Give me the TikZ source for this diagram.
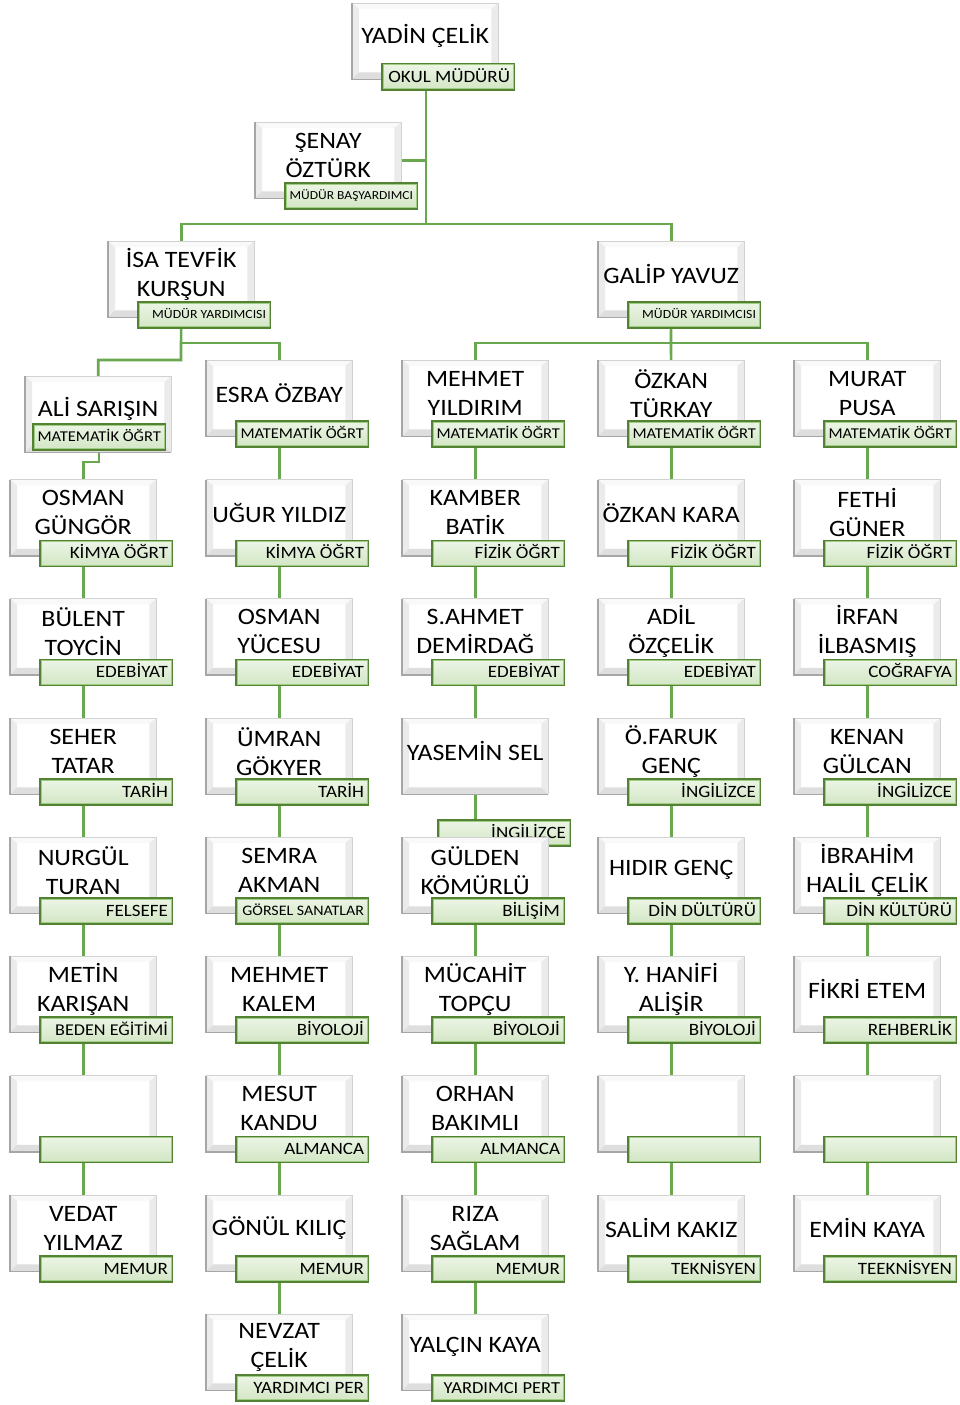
\documentclass[tikz,border=0pt]{standalone}
\usepackage{fontspec}
\setmainfont{Carlito}[FakeStretch=1.1]
\usetikzlibrary{calc}
\pgfdeclarelayer{background}
\pgfsetlayers{background,main}
\definecolor{conn}{RGB}{106,168,79}
\definecolor{lbdark}{RGB}{84,130,53}
\definecolor{lbin}{RGB}{160,205,130}
\definecolor{lbtop}{RGB}{236,245,230}
\definecolor{lbbot}{RGB}{210,230,196}
\tikzset{
  mbox/.style={rectangle, inner sep=0, minimum width=146pt, minimum height=76pt, fill=white},
  mname/.style={inner sep=0, align=center, font=\fontsize{23.5}{29}\selectfont, text=black},
  mlabel/.style={rectangle, inner sep=0, minimum width=132pt, minimum height=25.5pt, draw=lbdark, line width=2.2pt, top color=lbtop, bottom color=lbbot},
  mltext/.style={inner sep=0, anchor=base east},
  link/.style={draw=conn, line width=2.6pt},
}
\newcommand{\mbevel}[1]{%
  \fill[gray!5] (#1.north west) -- (#1.north east) -- ([shift={(-7pt,-6pt)}]#1.north east) -- ([shift={(7pt,-6pt)}]#1.north west) -- cycle;
  \fill[gray!16] (#1.north west) -- ([shift={(7pt,-6pt)}]#1.north west) -- ([shift={(7pt,7pt)}]#1.south west) -- (#1.south west) -- cycle;
  \fill[gray!16] (#1.north east) -- ([shift={(-7pt,-6pt)}]#1.north east) -- ([shift={(-7pt,7pt)}]#1.south east) -- (#1.south east) -- cycle;
  \fill[gray!26] (#1.south west) -- ([shift={(7pt,7pt)}]#1.south west) -- ([shift={(-7pt,7pt)}]#1.south east) -- (#1.south east) -- cycle;
  \draw[gray!35, line width=0.6pt] (#1.south east) -- (#1.north east) -- (#1.north west);
  \draw[gray!70, line width=1.4pt] (#1.north west) -- (#1.south west) -- (#1.south east);
}
\newcommand{\staffgen}[6]{%
  \node[mbox, anchor=north west] (#2) at (#3) {};
  \mbevel{#2}
  \node[mname] (#2-t) at ([yshift=5pt]#2.center) {#4};
  \node[mlabel, anchor=north west] (#2-l) at ([shift={(#6)}]#2.north west) {};
  \draw[lbin, line width=0.8pt] ([shift={(1.9pt,-1.9pt)}]#2-l.north west) rectangle ([shift={(-1.9pt,1.9pt)}]#2-l.south east);
  \node[mltext, font=\fontsize{#1}{#1}\selectfont] (#2-lt) at ([shift={(-5pt,-0.32*#1pt)}]#2-l.east) {#5};
}
\newcommand{\staff}[5][17.3]{\staffgen{#1}{#2}{#3}{#4}{#5}{29pt,-60pt}}
\begin{document}
\begin{tikzpicture}[x=1pt,y=-1pt]
\useasboundingbox (0,0) rectangle (959,1405);
% top
\staff{yadin}{352,3}{YADİN ÇELİK}{OKUL MÜDÜRÜ}
\staff[12.3]{senay}{255,122}{ŞENAY\\ÖZTÜRK}{MÜDÜR BAŞYARDIMCI}
\staff[12.5]{isa}{108,241}{İSA TEVFİK\\KURŞUN}{MÜDÜR YARDIMCISI}
\staff[12.5]{galip}{598,241}{GALİP YAVUZ}{MÜDÜR YARDIMCISI}
% column 1
\staffgen{15}{ali}{25,376}{ALİ SARIŞIN}{MATEMATİK ÖĞRT}{7pt,-47pt}
\staff{osmang}{10,479.5}{OSMAN\\GÜNGÖR}{KİMYA ÖĞRT}
\staff{bulent}{10,598.5}{BÜLENT\\TOYCİN}{EDEBİYAT}
\staff{seher}{10,718}{SEHER\\TATAR}{TARİH}
\staff{nurgul}{10,837}{NURGÜL\\TURAN}{FELSEFE}
\staff[16.5]{metin}{10,956}{METİN\\KARIŞAN}{BEDEN EĞİTİMİ}
\staff{emp1}{10,1075.5}{}{}
\staff{vedat}{10,1195}{VEDAT\\YILMAZ}{MEMUR}
% column 2
\staff[15]{esra}{206,360}{ESRA ÖZBAY}{MATEMATİK ÖĞRT}
\staff{ugur}{206,479.5}{UĞUR YILDIZ}{KİMYA ÖĞRT}
\staff{osmany}{206,598.5}{OSMAN\\YÜCESU}{EDEBİYAT}
\staff{umran}{206,718}{ÜMRAN\\GÖKYER}{TARİH}
\staff[14.5]{semra}{206,837}{SEMRA\\AKMAN}{GÖRSEL SANATLAR}
\staff{mehmetk}{206,956}{MEHMET\\KALEM}{BİYOLOJİ}
\staff{mesut}{206,1075.5}{MESUT\\KANDU}{ALMANCA}
\staff{gonul}{206,1195}{GÖNÜL KILIÇ}{MEMUR}
\staff{nevzat}{206,1314}{NEVZAT\\ÇELİK}{YARDIMCI PER}
% column 3
\staff[15]{mehmety}{402,360}{MEHMET\\YILDIRIM}{MATEMATİK ÖĞRT}
\staff{kamber}{402,479.5}{KAMBER\\BATİK}{FİZİK ÖĞRT}
\staff{sahmet}{402,598.5}{S.AHMET\\DEMİRDAĞ}{EDEBİYAT}
\staffgen{17.3}{yasemin}{402,718}{YASEMİN SEL}{İNGİLİZCE}{35pt,-101pt}
\staff{gulden}{402,837}{GÜLDEN\\KÖMÜRLÜ}{BİLİŞİM}
\staff{mucahit}{402,956}{MÜCAHİT\\TOPÇU}{BİYOLOJİ}
\staff{orhan}{402,1075.5}{ORHAN\\BAKIMLI}{ALMANCA}
\staff{riza}{402,1195}{RIZA\\SAĞLAM}{MEMUR}
\staff[16.8]{yalcin}{402,1314}{YALÇIN KAYA}{YARDIMCI PERT}
% column 4
\staff[15]{ozkant}{598,360}{ÖZKAN\\TÜRKAY}{MATEMATİK ÖĞRT}
\staff{ozkank}{598,479.5}{ÖZKAN KARA}{FİZİK ÖĞRT}
\staff{adil}{598,598.5}{ADİL\\ÖZÇELİK}{EDEBİYAT}
\staff{faruk}{598,718}{Ö.FARUK\\GENÇ}{İNGİLİZCE}
\staff{hidir}{598,837}{HIDIR GENÇ}{DİN DÜLTÜRÜ}
\staff{hanifi}{598,956}{Y. HANİFİ\\ALİŞİR}{BİYOLOJİ}
\staff{emp4}{598,1075.5}{}{}
\staff{salim}{598,1195}{SALİM KAKIZ}{TEKNİSYEN}
% column 5
\staff[15]{murat}{794,360}{MURAT\\PUSA}{MATEMATİK ÖĞRT}
\staff{fethi}{794,479.5}{FETHİ\\GÜNER}{FİZİK ÖĞRT}
\staff{irfan}{794,598.5}{İRFAN\\İLBASMIŞ}{COĞRAFYA}
\staff{kenan}{794,718}{KENAN\\GÜLCAN}{İNGİLİZCE}
\staff{ibrahim}{794,837}{İBRAHİM\\HALİL ÇELİK}{DİN KÜLTÜRÜ}
\staff{fikri}{794,956}{FİKRİ ETEM}{REHBERLİK}
\staff{emp5}{794,1075.5}{}{}
\staff{emin}{794,1195}{EMİN KAYA}{TEEKNİSYEN}
% connectors
\coordinate (j0) at (426,224);
\coordinate (j1) at (181,343);
\coordinate (j2) at (181,360);
\coordinate (j3) at (671,343);
\coordinate (j4) at (99,462);
\begin{pgfonlayer}{background}
  \draw[link] (j0 |- yadin.center) -- (j0);
  \draw[link] (senay.center) -- (senay.center -| j0);
  \draw[link] (isa.center) |- (j0) -| (galip.center);
  \draw[link] (isa.center) -- (j2) -| (ali.center);
  \draw[link] (j1) -| (esra.center);
  \draw[link] (galip.center) -- (j3);
  \draw[link] (mehmety.center) |- (j3) -| (murat.center);
  \draw[link] (j3) -- (ozkant.center);
  \draw[link] (ali-l.center) -- (ali-l.center |- j4) -| (osmang.center);
  \foreach \a/\b in {osmang/bulent,bulent/seher,seher/nurgul,nurgul/metin,metin/emp1,emp1/vedat,
    esra/ugur,ugur/osmany,osmany/umran,umran/semra,semra/mehmetk,mehmetk/mesut,mesut/gonul,gonul/nevzat,
    mehmety/kamber,kamber/sahmet,sahmet/yasemin,yasemin/gulden,gulden/mucahit,mucahit/orhan,orhan/riza,riza/yalcin,
    ozkant/ozkank,ozkank/adil,adil/faruk,faruk/hidir,hidir/hanifi,hanifi/emp4,emp4/salim,
    murat/fethi,fethi/irfan,irfan/kenan,kenan/ibrahim,ibrahim/fikri,fikri/emp5,emp5/emin}
    \draw[link] (\a.center) -- (\b.center);
\end{pgfonlayer}
\end{tikzpicture}
\end{document}
